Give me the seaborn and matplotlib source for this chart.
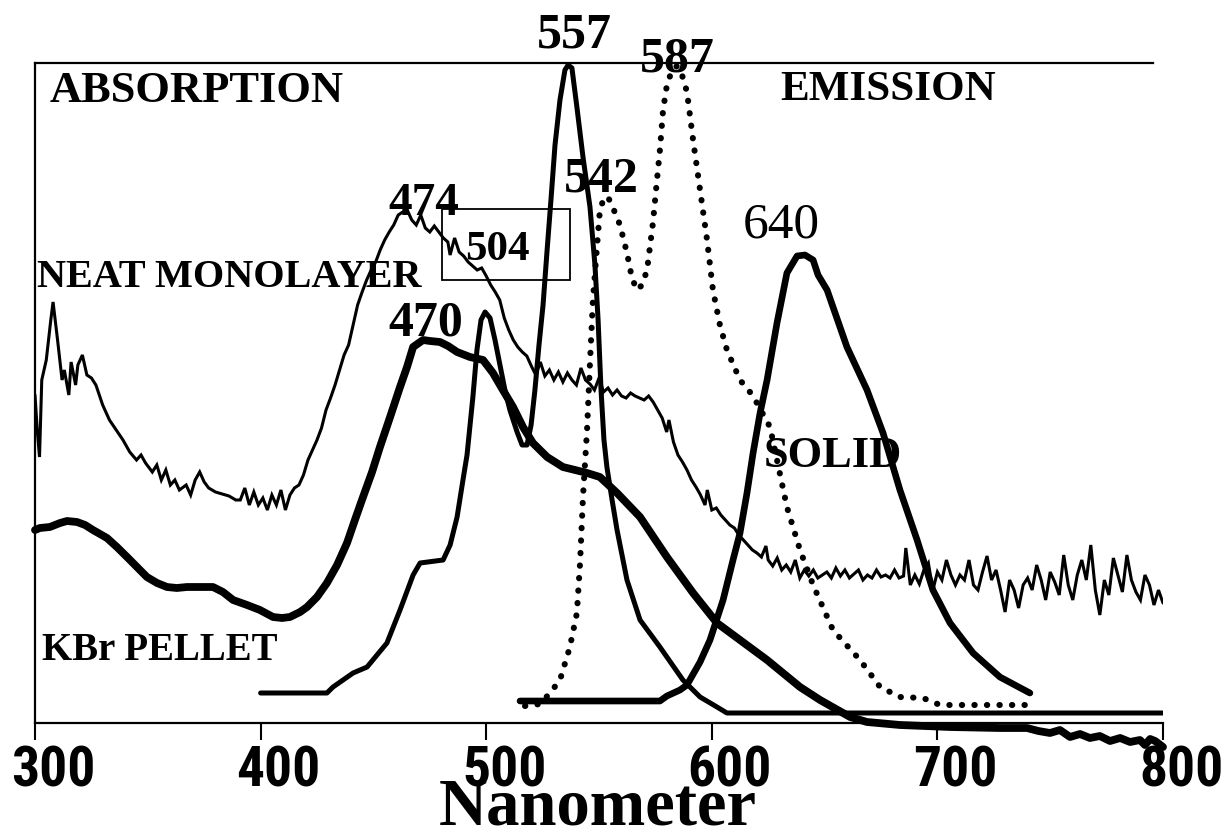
import matplotlib
matplotlib.use("Agg")
import matplotlib.pyplot as plt
import seaborn as sns
from matplotlib import font_manager as fm
from matplotlib.patches import Rectangle
from matplotlib.transforms import ScaledTranslation

# ---------------------------------------------------------------- data
# Wavelength axis
tick_values = [300, 400, 500, 600, 700, 800]
tick_labels = ["300", "400", "500", "600", "700", "800"]

# Neat monolayer absorption (noisy trace, arbitrary intensity units)
neat_nm = [
    300, 301, 302, 303, 305, 307, 308, 310, 312, 313,
    315, 316, 318, 319, 321, 323, 325, 327, 330, 333,
    336, 339, 342, 345, 347, 349, 352, 354, 356, 358,
    360, 362, 364, 367, 369, 371, 373, 375, 377, 380,
    383, 386, 389, 391, 393, 395, 397, 399, 401, 403,
    405, 407, 409, 411, 413, 415, 417, 419, 421, 423,
    425, 427, 429, 431, 433, 435, 437, 439, 441, 443,
    445, 447, 449, 451, 453, 455, 457, 459, 461, 463,
    465, 467, 469, 471, 473, 475, 477, 479, 481, 483,
    484, 486, 488, 490, 492, 494, 496, 498, 500, 502,
    504, 506, 508, 510, 512, 514, 516, 518, 520, 522,
    524, 526, 528, 530, 532, 534, 536, 538, 540, 542,
    544, 546, 548, 550, 552, 554, 556, 558, 560, 562,
    564, 566, 568, 570, 572, 574, 576, 578, 580, 581,
    583, 585, 587, 589, 591, 593, 595, 597, 598, 600,
    602, 604, 606, 608, 610, 612, 614, 616, 618, 620,
    622, 624, 625, 627, 629, 631, 633, 635, 637, 639,
    641, 643, 645, 647, 649, 651, 653, 655, 657, 659,
    661, 663, 665, 667, 669, 671, 673, 675, 677, 679,
    681, 683, 685, 686, 688, 690, 692, 694, 696, 698,
    700, 702, 704, 706, 708, 710, 712, 714, 716, 718,
    720, 722, 724, 726, 728, 730, 732, 734, 736, 738,
    740, 742, 744, 746, 748, 750, 752, 754, 756, 758,
    760, 762, 764, 766, 768, 770, 772, 774, 776, 778,
    780, 782, 784, 786, 788, 790, 792, 794, 796, 798,
    800,
]
neat_int = [
    327, 292, 265, 342, 362, 402, 420, 382, 342, 352,
    327, 360, 337, 357, 367, 347, 344, 337, 317, 302,
    292, 282, 270, 262, 267, 259, 250, 257, 242, 252,
    237, 242, 232, 237, 227, 242, 250, 240, 234, 230,
    228, 226, 222, 222, 234, 217, 230, 217, 224, 212,
    227, 217, 232, 212, 227, 234, 237, 247, 262, 272,
    282, 294, 312, 324, 337, 352, 367, 377, 397, 417,
    430, 442, 452, 460, 472, 482, 490, 497, 507, 510,
    512, 502, 497, 507, 494, 490, 496, 490, 484, 480,
    467, 484, 470, 466, 460, 456, 452, 454, 446, 437,
    430, 422, 404, 392, 382, 375, 370, 366, 356, 347,
    360, 346, 352, 342, 350, 340, 349, 342, 337, 354,
    342, 338, 332, 344, 330, 334, 327, 332, 326, 324,
    329, 326, 324, 322, 326, 320, 312, 304, 290, 302,
    280, 267, 260, 252, 242, 235, 227, 217, 232, 212,
    214, 207, 202, 197, 194, 187, 182, 177, 172, 169,
    165, 176, 162, 156, 164, 152, 157, 150, 162, 144,
    152, 146, 152, 144, 147, 150, 144, 154, 146, 152,
    144, 148, 152, 142, 147, 144, 152, 145, 147, 144,
    152, 144, 146, 174, 137, 147, 138, 152, 159, 132,
    150, 142, 162, 147, 137, 147, 142, 162, 137, 132,
    150, 166, 142, 152, 132, 110, 142, 132, 114, 137,
    144, 132, 157, 142, 122, 150, 140, 127, 167, 137,
    122, 147, 162, 142, 177, 132, 107, 142, 127, 164,
    147, 130, 167, 142, 130, 122, 147, 137, 117, 132,
    119,
]

# KBr pellet absorption
kbr_nm = [
    300.0, 302.2, 306.6, 311.1, 314.2, 318.6, 322.2, 325.7, 328.8, 331.9,
    336.3, 340.8, 345.2, 349.6, 354.1, 358.5, 362.9, 367.4, 373.1, 378.9,
    383.3, 387.8, 394.0, 399.7, 405.5, 409.5, 413.0, 417.5, 420.6, 425.0,
    429.4, 433.9, 438.3, 441.8, 445.4, 449.4, 452.9, 457.4, 461.8, 464.9,
    467.6, 472.0, 475.1, 479.5, 483.1, 487.1, 492.8, 498.6, 503.0, 507.4,
    511.9, 516.3, 520.7, 527.0, 534.0, 539.4, 544.7, 550.4, 558.0, 568.2,
    580.1, 591.7, 602.3, 612.5, 624.5, 639.1, 648.0, 661.3, 668.8, 683.4,
    705.6, 727.7, 739.7, 744.8, 749.9, 754.3, 758.8, 763.2, 767.6, 772.0,
    776.5, 781.0, 785.4, 789.8, 792.0, 794.3, 796.5, 800.0,
]
kbr_int = [
    192, 194, 195, 199, 201, 200, 197, 192, 188, 184,
    175, 165, 155, 145, 139, 135, 134, 135, 135, 135,
    130, 122, 117, 112, 105, 104, 105, 110, 115, 125,
    139, 157, 179, 202, 225, 250, 275, 305, 335, 355,
    375, 382, 381, 380, 376, 370, 365, 362, 349, 332,
    315, 295, 279, 265, 255, 252, 249, 245, 229, 205,
    165, 129, 99, 82, 62, 35, 22, 5, 0, -3,
    -5, -6, -6, -9, -11, -8, -15, -12, -16, -14,
    -19, -16, -20, -18, -23, -17, -19, -25,
]

# Excitation / emission trace with maxima near 470 and 557
exc_nm = [
    400.0, 429.4, 432.1, 441.0, 447.2, 456.0, 461.8, 467.6, 470.7, 480.9,
    484.0, 487.1, 489.7, 491.5, 494.1, 495.9, 497.7, 499.5, 501.7, 503.9,
    506.1, 508.3, 510.5, 513.7, 515.9, 518.1, 519.9, 521.6, 523.4, 525.2,
    527.0, 528.7, 530.5, 532.7, 534.9, 536.3, 538.0, 540.2, 542.9, 546.0,
    548.2, 549.6, 550.9, 552.2, 553.5, 555.8, 558.0, 562.4, 568.2, 577.0,
    587.2, 594.8, 602.3, 606.7, 800.0,
]
exc_int = [
    29, 29, 35, 49, 55, 79, 112, 147, 159, 162,
    177, 205, 242, 267, 325, 372, 402, 410, 404, 382,
    357, 332, 312, 290, 277, 277, 297, 332, 377, 417,
    472, 522, 577, 622, 652, 657, 654, 615, 565, 515,
    457, 402, 332, 282, 255, 222, 192, 142, 102, 75,
    42, 25, 15, 9, 9,
]

# Dotted emission trace (542 / 587)
dot_nm = [
    517.2, 523.8, 528.3, 532.7, 537.1, 540.2, 541.6, 542.9, 544.7, 546.0,
    547.3, 549.1, 550.4, 552.2, 554.0, 556.6, 559.3, 562.4, 564.6, 566.8,
    569.1, 571.3, 573.9, 575.7, 577.0, 578.4, 580.1, 582.4, 584.6, 586.8,
    589.0, 591.7, 594.8, 597.9, 600.5, 603.6, 606.7, 612.5, 616.9, 620.0,
    625.8, 628.9, 633.3, 639.1, 644.9, 653.7, 665.7, 674.6, 683.4, 693.6,
    701.2, 742.4,
]
dot_int = [
    16, 18, 29, 42, 75, 109, 159, 225, 292, 359,
    422, 475, 512, 524, 525, 512, 497, 469, 444, 432,
    437, 452, 499, 542, 572, 612, 637, 652, 656, 647,
    630, 582, 532, 482, 432, 397, 372, 342, 330, 319,
    295, 262, 215, 172, 137, 92, 62, 35, 25, 24,
    17, 17,
]

# Solid-state emission (640)
solid_nm = [
    515.0, 577.0, 580.1, 585.9, 589.0, 594.8, 599.2, 605.0, 609.4, 612.5,
    615.6, 618.3, 621.4, 624.5, 628.9, 633.3, 637.8, 641.3, 644.9, 647.1,
    651.1, 659.9, 668.8, 675.9, 683.4, 691.0, 698.0, 705.6, 715.8, 727.7,
    741.0,
]
solid_int = [
    21, 21, 26, 32, 37, 60, 82, 122, 162, 189,
    229, 269, 309, 342, 399, 449, 466, 467, 462, 447,
    432, 375, 332, 289, 232, 182, 132, 99, 69, 45,
    29,
]

# Text annotations: (label, wavelength, intensity, size, weight)
peak_labels = [
    ("557", 539.0, 674, 36, "bold"),
    ("587", 584.6, 650, 36, "bold"),
    ("542", 551.0, 530, 36, "bold"),
    ("474", 472.4, 507, 34, "bold"),
    ("504", 505.0, 462, 31, "bold"),
    ("470", 473.0, 387, 36, "bold"),
    ("640", 631.0, 484, 37, "normal"),
]
sample_labels = [
    ("ABSORPTION", 306.6, 620, 32),
    ("EMISSION", 630.2, 622, 31),
    ("NEAT MONOLAYER", 300.9, 435, 29),
    ("KBr PELLET", 303.1, 62, 28),
    ("SOLID", 623.0, 255, 32),
]
box_nm = (480.4, 537.1)
box_int = (442, 513)

# ---------------------------------------------------------------- style
sns.set_style("white")
serif = ["Liberation Serif", "DejaVu Serif"]
plt.rcParams.update({
    "font.family": serif,
    "text.color": "black",
    "axes.labelcolor": "black",
    "xtick.color": "black",
    "axes.edgecolor": "black",
})

_installed = {f.name for f in fm.fontManager.ttflist}
tick_family = "Liberation Sans"
for cand in ("Liberation Sans Narrow", "Roboto Condensed", "Open Sans Condensed"):
    if cand in _installed:
        tick_family = cand
        break

W, H = 1229, 838
fig = plt.figure(figsize=(W / 100, H / 100), dpi=100)
ax = fig.add_axes([35 / W, 1 - 723 / H, (1163 - 35) / W, (723 - 63) / H])

common = dict(ax=ax, color="black", estimator=None, sort=False, legend=False)
sns.lineplot(x=neat_nm, y=neat_int, lw=2.2, solid_joinstyle="miter", **common)
sns.lineplot(x=kbr_nm, y=kbr_int, lw=5.6, clip_on=False,
             solid_capstyle="round", **common)
sns.lineplot(x=exc_nm, y=exc_int, lw=3.6, **common)
sns.lineplot(x=solid_nm, y=solid_int, lw=4.8, solid_capstyle="round", **common)
sns.lineplot(x=dot_nm, y=dot_int, lw=4.4, linestyle=(0, (0.05, 2.0)),
             dash_capstyle="round", **common)

ax.add_patch(Rectangle((box_nm[0], box_int[0]), box_nm[1] - box_nm[0],
                       box_int[1] - box_int[0], fill=False, lw=1.3,
                       edgecolor="black"))

ax.set_xlim(300, 800)
ax.set_ylim(-1, 659)
ax.set_yticks([])
ax.set_xlabel("")
ax.set_ylabel("")

for side in ("left", "bottom", "top"):
    ax.spines[side].set_visible(True)
    ax.spines[side].set_linewidth(1.6)
    ax.spines[side].set_color("black")
ax.spines["right"].set_visible(False)
ax.spines["top"].set_bounds(300, 795.6)

ax.set_xticks(tick_values)
ax.set_xticklabels(tick_labels, fontfamily=tick_family, fontweight="bold",
                   fontsize=40, color="black")
ax.tick_params(axis="x", bottom=True, direction="out", length=12, width=1.5,
               pad=4, colors="black")
shift = ScaledTranslation(18 / 100, 0, fig.dpi_scale_trans)
for lab in ax.get_xticklabels():
    lab.set_transform(lab.get_transform() + shift)

for text, x, y, size, weight in peak_labels:
    ax.text(x, y, text, ha="center", va="baseline", fontsize=size,
            fontweight=weight, family=serif, color="black")
for text, x, y, size in sample_labels:
    ax.text(x, y, text, ha="left", va="baseline", fontsize=size,
            fontweight="bold", family=serif, color="black")

fig.text(598 / W, 1 - 824 / H, "Nanometer", ha="center", va="baseline",
         fontsize=48, fontweight="bold", family=serif, color="black")

fig.savefig("out.png", dpi=100)
